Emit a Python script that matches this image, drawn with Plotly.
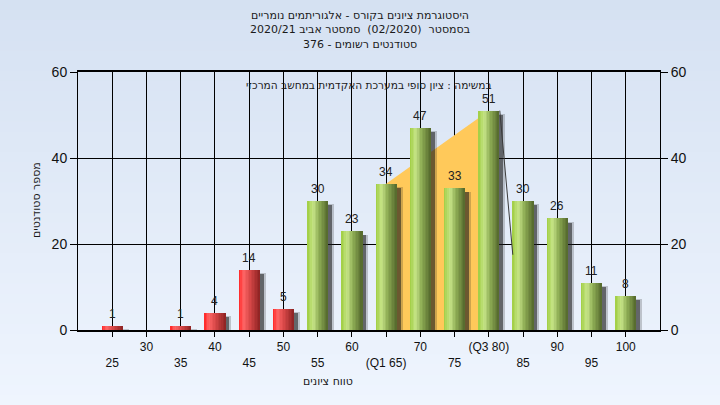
import plotly.graph_objects as go

# ---------------- data ----------------
grade_bins = [25, 30, 35, 40, 45, 50, 55, 60, 65, 70, 75, 80, 85, 90, 95, 100]
student_counts = [1, 0, 1, 4, 14, 5, 30, 23, 34, 47, 33, 51, 30, 26, 11, 8]
tick_labels = ["<br>25", "30", "<br>35", "40", "<br>45", "50", "<br>55", "60",
               "<br>(Q1 65)", "70", "<br>75", "(Q3 80)", "<br>85", "90", "<br>95", "100"]
pass_grade = 55
q1_bin = 65
q3_bin = 80
q3_marker_x = [81.6, 83.5]
q3_marker_y = [51, 17.5]

title_lines = ["היסטוגרמת ציונים בקורס - אלגוריתמים נומריים",
               "בסמסטר  (02/2020)  סמסטר אביב 2020/21",
               "סטודנטים רשומים - 376"]
subtitle = "במשימה : ציון סופי במערכת האקדמית במחשב המרכזי"
y_title = "מספר סטודנטים"
x_title = "טווח ציונים"

# ---------------- styling helpers ----------------
FONT = "Liberation Sans, Arial, DejaVu Sans, sans-serif"
HFONT = "DejaVu Sans, Liberation Sans, sans-serif"
BAR_W = 3.1
N_SLICES = 14

green_stops = [(0.0, "#9fcd40"), (0.28, "#c6e488"), (0.55, "#8fae55"), (1.0, "#53672c")]
red_stops = [(0.0, "#ff2222"), (0.22, "#ff6666"), (0.5, "#dc4a4a"), (1.0, "#8c2222")]


def hex2rgb(h):
    h = h.lstrip("#")
    return [int(h[i:i + 2], 16) for i in (0, 2, 4)]


def grad(stops, t):
    for (t0, c0), (t1, c1) in zip(stops[:-1], stops[1:]):
        if t0 <= t <= t1:
            f = (t - t0) / (t1 - t0)
            a, b = hex2rgb(c0), hex2rgb(c1)
            return "rgb(%d,%d,%d)" % tuple(round(a[k] + (b[k] - a[k]) * f) for k in range(3))
    return stops[-1][1]


fig = go.Figure()

W, H = 720, 405
ml, mr, mt, mb = 78, 60, 72, 75
pw, ph = W - ml - mr, H - mt - mb

# page background gradient (bands)
n_bands = 40
top_c, bot_c = hex2rgb("#d5e1f2"), hex2rgb("#eff5fe")
for i in range(n_bands):
    py0 = H * i / n_bands
    py1 = H * (i + 1) / n_bands + 1
    f = (i + 0.5) / n_bands
    col = "rgb(%d,%d,%d)" % tuple(round(top_c[k] + (bot_c[k] - top_c[k]) * f) for k in range(3))
    fig.add_shape(type="rect", xref="paper", yref="paper", layer="below",
                  x0=-ml / pw, x1=(W - ml) / pw,
                  y0=(H - mb - py1) / ph, y1=(H - mb - py0) / ph,
                  line_width=0, fillcolor=col)

# interquartile area (between grid and bars)
y_q1 = student_counts[grade_bins.index(q1_bin)]
y_q3 = student_counts[grade_bins.index(q3_bin)]
fig.add_shape(type="path", xref="x", yref="y", layer="between",
              path=f"M {q1_bin} 0 L {q1_bin} {y_q1} L {q3_bin} {y_q3} L {q3_bin} 0 Z",
              fillcolor="#ffc95a", line_width=0)

# shadows
fig.add_trace(go.Bar(x=grade_bins, y=[c + 0.2 if c else 0 for c in student_counts], base=-1.0,
                     width=BAR_W + 0.35, offset=-BAR_W / 2 + 0.5,
                     marker=dict(color="rgba(30,30,30,0.22)", line_width=0),
                     hoverinfo="skip", showlegend=False))
fig.add_trace(go.Bar(x=grade_bins, y=[c - 0.4 if c else 0 for c in student_counts], base=-0.6,
                     width=BAR_W, offset=-BAR_W / 2 + 0.55,
                     marker=dict(color="rgba(25,25,25,0.55)", line_width=0),
                     hoverinfo="skip", showlegend=False))

# gradient bars in slices
s = BAR_W / N_SLICES
for i in range(N_SLICES):
    t = (i + 0.5) / N_SLICES
    cols = [grad(red_stops if g < pass_grade else green_stops, t) for g in grade_bins]
    w = s * 1.4 if i < N_SLICES - 1 else s
    fig.add_trace(go.Bar(x=grade_bins, y=student_counts, width=w,
                         offset=-BAR_W / 2 + i * s,
                         marker=dict(color=cols, line_width=0),
                         hoverinfo="skip", showlegend=False))

# q3 marker line
fig.add_trace(go.Scatter(x=q3_marker_x, y=q3_marker_y, mode="lines",
                         line=dict(color="#3a3a3a", width=1), hoverinfo="skip", showlegend=False))

# dummy trace for right axis
fig.add_trace(go.Scatter(x=grade_bins, y=student_counts, yaxis="y2", mode="markers",
                         marker=dict(opacity=0), hoverinfo="skip", showlegend=False))

annotations = []
# value labels
for g, c in zip(grade_bins, student_counts):
    if c > 0:
        annotations.append(dict(x=g, y=c, xref="x", yref="y", text=str(c), showarrow=False,
                                yshift=12, xanchor="center", yanchor="middle",
                                font=dict(family=FONT, size=12, color="#222222")))

annotations.append(dict(text="<br>".join(title_lines), xref="paper", yref="paper",
                        x=(360 - ml) / pw, y=(H - mb - 30) / ph, showarrow=False,
                        xanchor="center", yanchor="middle", align="center",
                        font=dict(family=HFONT, size=11, color="#1a1a1a")))
annotations.append(dict(text=subtitle, xref="paper", yref="paper", x=(369 - ml) / pw,
                        y=(H - mb - 85) / ph, showarrow=False, xanchor="center", yanchor="middle",
                        font=dict(family=HFONT, size=10.6, color="#1a1a1a")))
annotations.append(dict(text=y_title, xref="paper", yref="paper", x=(36 - ml) / pw,
                        y=(H - mb - 200) / ph, showarrow=False, textangle=-90,
                        xanchor="center", yanchor="middle",
                        font=dict(family=HFONT, size=11, color="#1a1a1a")))
annotations.append(dict(text=x_title, xref="paper", yref="paper", x=(328 - ml) / pw,
                        y=(H - mb - 381) / ph, showarrow=False,
                        xanchor="center", yanchor="middle",
                        font=dict(family=HFONT, size=11, color="#1a1a1a")))

fig.update_layout(
    width=W, height=H,
    margin=dict(l=ml, r=mr, t=mt, b=mb),
    paper_bgcolor="#e2ebf7",
    plot_bgcolor="#b4b4b4",
    barmode="overlay",
    bargap=0,
    showlegend=False,
    annotations=annotations,
    xaxis=dict(range=[20, 105], tickmode="array", tickvals=grade_bins, ticktext=tick_labels,
               showgrid=True, gridcolor="black", gridwidth=1, zeroline=False,
               showline=True, linecolor="black", linewidth=1.5, mirror=True,
               ticks="outside", ticklen=5, tickcolor="black",
               tickfont=dict(family=FONT, size=12, color="#111111")),
    yaxis=dict(range=[0, 60], tickvals=[0, 20, 40, 60], showgrid=True, gridcolor="black",
               gridwidth=1, zeroline=False, showline=True, linecolor="black", linewidth=1,
               ticks="outside", ticklen=7, tickcolor="black",
               tickfont=dict(family=FONT, size=14, color="#111111")),
    yaxis2=dict(range=[0, 60], tickvals=[0, 20, 40, 60], overlaying="y", side="right",
                showgrid=False, zeroline=False, showline=True, linecolor="black", linewidth=1,
                ticks="outside", ticklen=7, tickcolor="black",
                tickfont=dict(family=FONT, size=14, color="#111111")),
)

fig.write_html("out.html", config={"displayModeBar": False},
               post_script="document.body.style.margin='0';document.body.style.padding='0';")
